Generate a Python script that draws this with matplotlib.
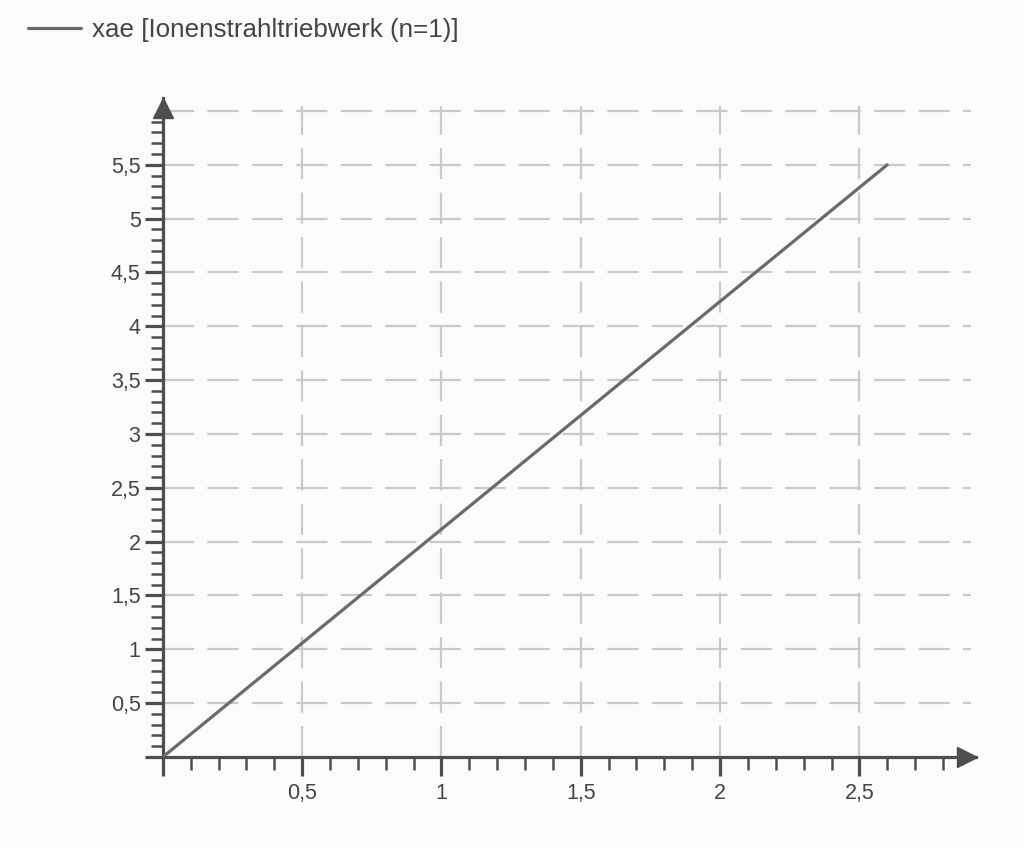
import matplotlib
matplotlib.use("Agg")
import matplotlib.pyplot as plt
import matplotlib.transforms as mtransforms
from matplotlib.ticker import FixedLocator, FuncFormatter

# data
x_vals = [0.0, 2.6]
y_vals = [0.0, 5.5]
series_label = "xae [Ionenstrahltriebwerk (n=1)]"

x_major = [0.0, 0.5, 1.0, 1.5, 2.0, 2.5]
y_major = [0.0, 0.5, 1.0, 1.5, 2.0, 2.5, 3.0, 3.5, 4.0, 4.5, 5.0, 5.5]
x_minor = [i / 10 for i in range(1, 29)]
y_minor = [i / 10 for i in range(1, 60)]
x_grid = [0.5, 1.0, 1.5, 2.0, 2.5]
y_grid = [0.5, 1.0, 1.5, 2.0, 2.5, 3.0, 3.5, 4.0, 4.5, 5.0, 5.5, 6.0]

plt.rcParams['font.family'] = ['Liberation Sans', 'DejaVu Sans']

axis_col = '#4e4e4e'
bg = '#fbfbfb'

fig = plt.figure(figsize=(10.24, 8.48), dpi=100, facecolor=bg)
ax = fig.add_axes([0.159, 0.1073, 0.7945, 0.7771])
ax.set_facecolor(bg)

xmax, ymax = 2.92, 6.12
ax.set_xlim(0, xmax)
ax.set_ylim(0, ymax)

line, = ax.plot(x_vals, y_vals, color='#6a6a6a', lw=2.3, solid_capstyle='round',
                label=series_label, zorder=3)

# dashed grid, drawn by hand so the top row at 6 has no tick
gkw = dict(color='#c9c9c9', lw=1.6, dashes=(14, 6), zorder=1)
for gx in x_grid:
    ax.plot([gx, gx], [0, 6.05], **gkw)
for gy in y_grid:
    ax.plot([0, 2.9], [gy, gy], **gkw)

for s in ['top', 'right']:
    ax.spines[s].set_visible(False)
for s in ['left', 'bottom']:
    ax.spines[s].set_color(axis_col)
    ax.spines[s].set_linewidth(2.3)

def comma(v, pos):
    if abs(v) < 1e-9:
        return ''
    return f'{v:g}'.replace('.', ',')

ax.xaxis.set_major_locator(FixedLocator(x_major))
ax.xaxis.set_minor_locator(FixedLocator(x_minor))
ax.yaxis.set_major_locator(FixedLocator(y_major))
ax.yaxis.set_minor_locator(FixedLocator(y_minor))
ax.xaxis.set_major_formatter(FuncFormatter(comma))
ax.yaxis.set_major_formatter(FuncFormatter(comma))
ax.tick_params(which='major', length=14, width=2.3, color=axis_col,
               labelcolor='#444444')
ax.tick_params(axis='x', which='major', labelsize=15.5, pad=5)
ax.tick_params(axis='y', which='major', labelsize=15.5, pad=3, length=13)
ax.tick_params(which='minor', length=9, width=1.8, color=axis_col)

# arrow heads, tips at the ends of the axes
ms = 14
tr_x = mtransforms.offset_copy(ax.transAxes, fig=fig, x=-ms / 2, y=0, units='points')
tr_y = mtransforms.offset_copy(ax.transAxes, fig=fig, x=0, y=-ms / 2, units='points')
ax.plot(1.0, 0, marker='>', ms=ms, color=axis_col, transform=tr_x,
        clip_on=False, zorder=4)
ax.plot(0, 1.0, marker='^', ms=ms, color=axis_col, transform=tr_y,
        clip_on=False, zorder=4)

fig.legend(handles=[line], loc='upper left', bbox_to_anchor=(0.0273, 0.979),
           frameon=False, fontsize=18.7, handlelength=2.05, handletextpad=0.42,
           borderpad=0, borderaxespad=0, labelcolor='#444444')

fig.savefig('out.png', dpi=100, facecolor=fig.get_facecolor())
